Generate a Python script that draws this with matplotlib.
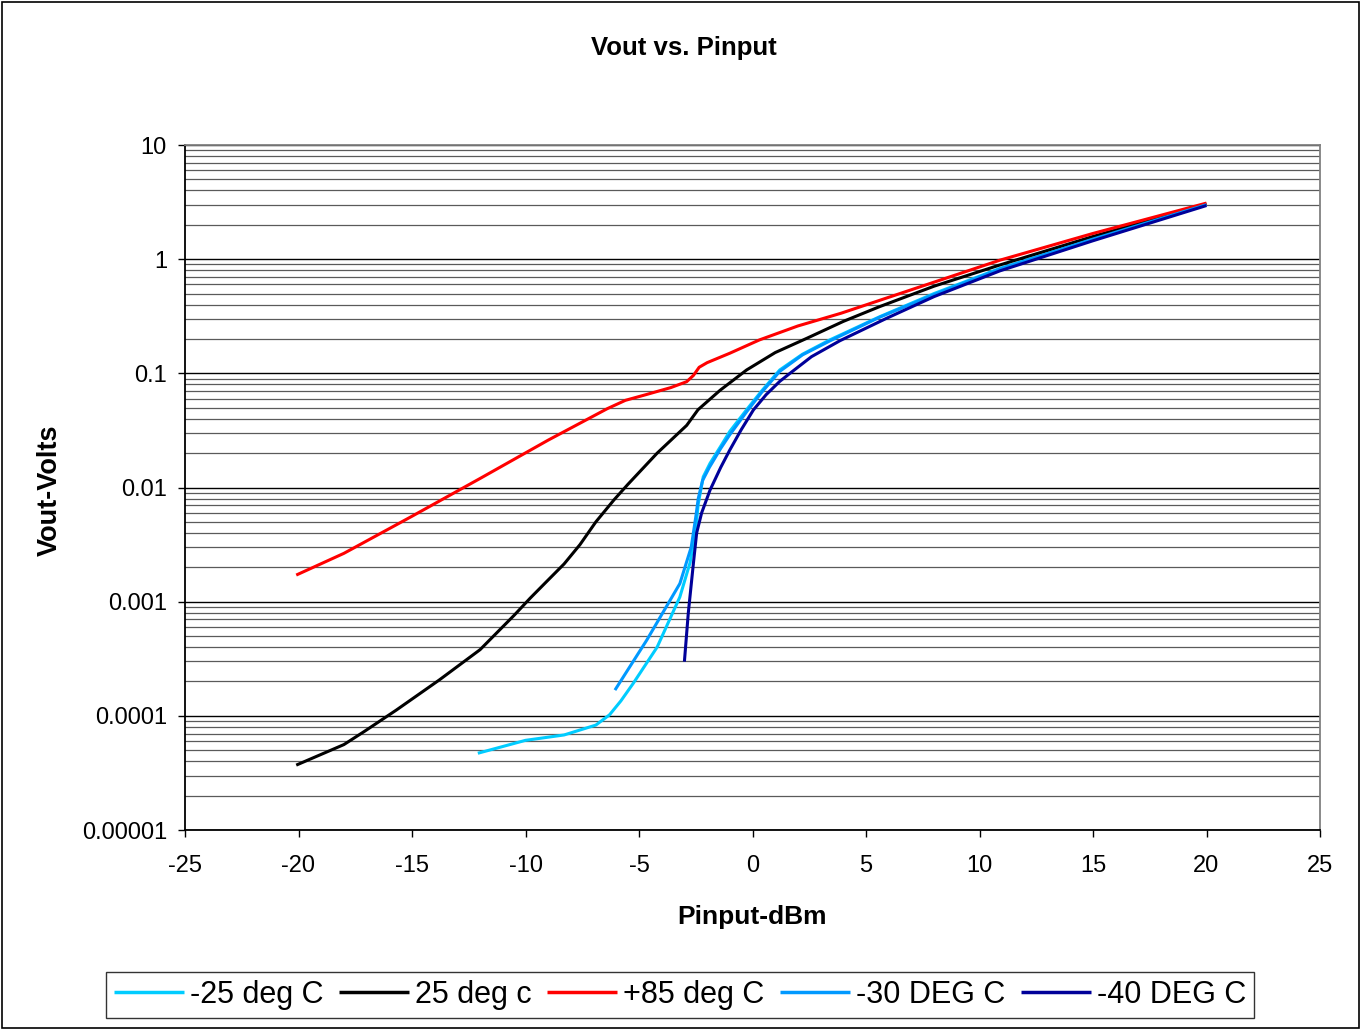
import matplotlib
matplotlib.use("Agg")
import matplotlib.pyplot as plt
from matplotlib.patches import Rectangle

plt.rcParams['font.family'] = ['Liberation Sans', 'DejaVu Sans']

# ---- data ----
x_m25 = [-12.1, -10, -8.3, -6.9, -6.3, -5.8, -5.25, -4.2, -3.2, -2.75, -2.5, -2.39, -2.17, -1.87, -1.4, -1.0, -0.26, 0.4, 1.2, 2.2, 3.4, 5.6, 8.0, 10.9, 15, 20]
v_m25 = [4.7e-5, 6.1e-5, 6.8e-5, 8.3e-5, 1.02e-4, 1.35e-4, 1.93e-4, 4.0e-4, 1.1e-3, 2.2e-3, 4.3e-3, 7.2e-3, 1.24e-2, 1.63e-2, 2.3e-2, 3.1e-2, 4.8e-2, 7.0e-2, 0.107, 0.147, 0.196, 0.313, 0.5, 0.83, 1.5, 3.0]

x_25 = [-20.1, -18, -17.1, -15.7, -13.8, -12, -10.5, -9.8, -9.1, -8.3, -7.6, -6.9, -6.1, -5.5, -4.2, -2.9, -2.4, -1.43, -0.26, 1.0, 2.4, 4.0, 5.6, 8.0, 10.9, 15, 20]
v_25 = [3.7e-5, 5.6e-5, 7.3e-5, 1.12e-4, 2.06e-4, 3.8e-4, 7.6e-4, 1.07e-3, 1.48e-3, 2.14e-3, 3.16e-3, 5.0e-3, 7.8e-3, 1.06e-2, 2.0e-2, 3.5e-2, 4.8e-2, 7.1e-2, 0.107, 0.152, 0.203, 0.285, 0.384, 0.58, 0.89, 1.58, 3.05]

x_85 = [-20.1, -18, -15, -12, -9, -6.4, -5.6, -4.7, -3.6, -2.9, -2.6, -2.35, -2.0, -1.0, 0.3, 2.0, 3.9, 7.4, 10.9, 15, 20]
v_85 = [1.71e-3, 2.65e-3, 5.6e-3, 1.2e-2, 2.6e-2, 4.9e-2, 5.8e-2, 6.5e-2, 7.5e-2, 8.45e-2, 9.6e-2, 0.113, 0.124, 0.15, 0.196, 0.26, 0.336, 0.574, 0.98, 1.68, 3.1]

x_m30 = [-6.06, -4.66, -3.2, -2.7, -2.5, -2.39, -2.2, -1.9, -1.4, -1.0, -0.26, 0.4, 1.2, 2.2, 3.4, 5.6, 8.0, 10.9, 15, 20]
v_m30 = [1.68e-4, 4.6e-4, 1.44e-3, 3.0e-3, 5.5e-3, 8.0e-3, 1.15e-2, 1.5e-2, 2.2e-2, 2.9e-2, 4.6e-2, 6.8e-2, 0.104, 0.145, 0.192, 0.31, 0.49, 0.82, 1.5, 3.0]

x_m40 = [-3.0, -2.83, -2.6, -2.46, -2.24, -1.87, -1.4, -1.0, -0.5, 0.04, 0.6, 1.2, 1.65, 2.6, 3.85, 5.9, 8.0, 10.9, 15, 20]
v_m40 = [2.98e-4, 7.9e-4, 2.2e-3, 4.0e-3, 6.0e-3, 9.5e-3, 1.5e-2, 2.13e-2, 3.2e-2, 4.78e-2, 6.5e-2, 0.085, 0.1, 0.14, 0.193, 0.303, 0.47, 0.79, 1.45, 2.95]

series_labels = ['-25 deg C', '25 deg c', '+85 deg C', '-30 DEG C', '-40 DEG C']
series_colors = ['#00CCFF', '#000000', '#FF0000', '#0099FF', '#000099']

x_ticks = [-25, -20, -15, -10, -5, 0, 5, 10, 15, 20, 25]
y_ticks = [1e-5, 1e-4, 1e-3, 1e-2, 1e-1, 1, 10]
y_ticklabels = ['0.00001', '0.0001', '0.001', '0.01', '0.1', '1', '10']

# ---- figure ----
W, H = 1361, 1030
fig = plt.figure(figsize=(W / 100, H / 100), dpi=100)
ax = fig.add_axes([185 / W, (H - 830) / H, (1320 - 185) / W, (830 - 145) / H])

xs = [x_m25, x_25, x_85, x_m30, x_m40]
vs = [v_m25, v_25, v_85, v_m30, v_m40]
for x, v, lab, c in zip(xs, vs, series_labels, series_colors):
    ax.plot(x, v, color=c, lw=2.2, label=lab, solid_capstyle='butt',
            solid_joinstyle='round', zorder=3)

ax.set_yscale('log')
ax.set_xlim(-25, 25)
ax.set_ylim(1e-5, 10)
ax.set_xticks(x_ticks)
ax.set_xticklabels([str(t) for t in x_ticks])
ax.set_yticks(y_ticks)
ax.set_yticklabels(y_ticklabels)
ax.yaxis.set_minor_locator(matplotlib.ticker.LogLocator(base=10, subs=range(2, 10), numticks=20))
ax.yaxis.set_minor_formatter(matplotlib.ticker.NullFormatter())

ax.grid(True, axis='y', which='major', color='black', lw=1.0, zorder=1)
ax.grid(True, axis='y', which='minor', color='#5a5a5a', lw=0.9, zorder=1)
ax.grid(False, axis='x')

ax.tick_params(axis='both', which='major', direction='out', length=5, width=1, labelsize=17, colors='black')
ax.tick_params(axis='y', which='major', pad=8)
ax.tick_params(axis='x', which='major', pad=13)
ax.tick_params(axis='y', which='minor', length=0)

for s in ['left', 'bottom']:
    ax.spines[s].set_color('black')
    ax.spines[s].set_linewidth(1.3)
for s in ['top', 'right']:
    ax.spines[s].set_color('#808080')
    ax.spines[s].set_linewidth(1.3)

fig.text(684 / W, 1 - 48 / H, 'Vout vs. Pinput', ha='center', va='center', fontsize=18.5, fontweight='bold')
fig.text(752 / W, 1 - 917 / H, 'Pinput-dBm', ha='center', va='center', fontsize=19, fontweight='bold')
fig.text(50 / W, 1 - 490 / H, 'Vout-Volts', ha='center', va='center', rotation=90, fontsize=19.5, fontweight='bold')

leg = fig.legend(loc='center', bbox_to_anchor=(680 / W, 1 - 995 / H), ncol=5, fontsize=22,
                 frameon=True, fancybox=False, edgecolor='black', handlelength=2.3,
                 handletextpad=0.2, columnspacing=0.5, borderpad=0.25)
leg.get_frame().set_linewidth(1.0)
for l in leg.get_lines():
    l.set_linewidth(2.5)

fig.patches.append(Rectangle((0.0015, 0.0015), 0.997, 0.997, transform=fig.transFigure,
                             fill=False, edgecolor='black', lw=1.2))

fig.savefig('out.png', dpi=100)
